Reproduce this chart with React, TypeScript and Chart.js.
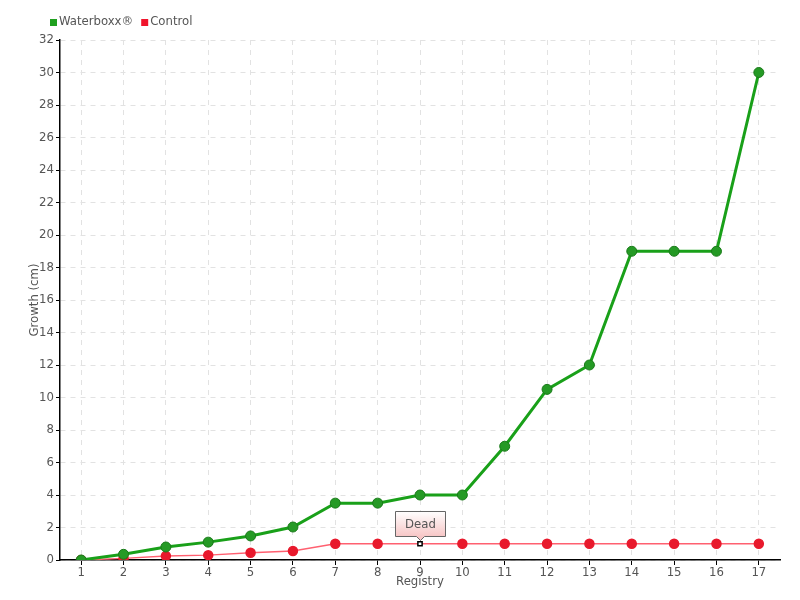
import React, { useEffect, useRef } from "react";
import { Chart, registerables } from "chart.js";

Chart.register(...registerables);

const categories = ["1","2","3","4","5","6","7","8","9","10","11","12","13","14","15","16","17"];
const waterboxx = [0, 0.35, 0.8, 1.1, 1.48, 2.03, 3.5, 3.5, 4, 4, 7, 10.5, 12, 19, 19, 19, 30];
const control = [0, 0.1, 0.25, 0.3, 0.45, 0.55, 1, 1, 1, 1, 1, 1, 1, 1, 1, 1, 1];
const deadIndex = 8;
const deadLabel = "Dead";
const seriesNames = ["Waterboxx®", "Control"];
const seriesColors = ["#1fa01f", "#f0142c"];

const FONT = "'DejaVu Sans Condensed', 'Liberation Sans Narrow', sans-serif";
const TEXT = "#555";

const deadPlugin = {
  id: "deadLabel",
  afterDatasetsDraw(chart: any) {
    const meta = chart.getDatasetMeta(1);
    const el = meta.data[deadIndex];
    if (!el) return;
    const ctx = chart.ctx;
    const x = Math.round(el.x) + 0.5;
    const y = el.y;
    const w = 50, h = 25;
    const bottom = Math.round(y - 8) + 0.5;
    const top = bottom - h;
    const left = x - w / 2;
    ctx.save();
    const g = ctx.createLinearGradient(0, top, 0, bottom);
    g.addColorStop(0, "#ffffff");
    g.addColorStop(1, "#f7c6c6");
    ctx.beginPath();
    ctx.moveTo(left, top);
    ctx.lineTo(left + w, top);
    ctx.lineTo(left + w, bottom);
    ctx.lineTo(x + 4, bottom);
    ctx.lineTo(x, bottom + 4);
    ctx.lineTo(x - 4, bottom);
    ctx.lineTo(left, bottom);
    ctx.closePath();
    ctx.fillStyle = g;
    ctx.fill();
    ctx.strokeStyle = "#666";
    ctx.lineWidth = 1;
    ctx.stroke();
    ctx.fillStyle = TEXT;
    ctx.font = `13px ${FONT}`;
    ctx.textAlign = "center";
    ctx.textBaseline = "middle";
    ctx.fillText(deadLabel, x, top + h / 2 + 1);
    ctx.restore();
  },
};

const legendPlugin = {
  id: "customLegend",
  afterDraw(chart: any) {
    const ctx = chart.ctx;
    ctx.save();
    ctx.font = `13px ${FONT}`;
    ctx.textBaseline = "middle";
    ctx.textAlign = "left";
    let x = chart.chartArea.left - 10;
    const y = 22;
    seriesNames.forEach((name, i) => {
      ctx.fillStyle = seriesColors[i];
      ctx.fillRect(x, y - 3, 7, 7);
      ctx.fillStyle = TEXT;
      ctx.fillText(name, x + 9, y);
      x += 9 + ctx.measureText(name).width + 8;
    });
    ctx.restore();
  },
};

export default function App() {
  const ref = useRef<HTMLCanvasElement | null>(null);
  useEffect(() => {
    document.body.style.margin = "0";
    const canvas = ref.current!;
    const pointStyles = control.map((_, i) => (i === deadIndex ? "rect" : "circle"));
    const redBg = control.map((_, i) => (i === deadIndex ? "#ffffff" : "#e8192c"));
    const redBorder = control.map((_, i) => (i === deadIndex ? "#000000" : "#e8192c"));
    const redRadius = control.map((_, i) => (i === deadIndex ? 3 : 4.5));
    const chart = new Chart(canvas, {
      type: "line",
      data: {
        labels: categories,
        datasets: [
          {
            label: seriesNames[0],
            data: waterboxx,
            borderColor: "#19a019",
            backgroundColor: seriesColors[0],
            borderWidth: 3,
            pointRadius: 5,
            pointBackgroundColor: "#259a25",
            pointBorderColor: "#1a7a1a",
            pointBorderWidth: 1,
            tension: 0,
          },
          {
            label: seriesNames[1],
            data: control,
            borderColor: "#ff6070",
            backgroundColor: seriesColors[1],
            borderWidth: 1.5,
            pointRadius: redRadius,
            pointStyle: pointStyles as any,
            pointBackgroundColor: redBg,
            pointBorderColor: redBorder,
            pointBorderWidth: 1.5,
            tension: 0,
          },
        ],
      },
      options: {
        animation: false,
        responsive: false,
        layout: { padding: { left: 0, right: 20, top: 40, bottom: 0 } },
        plugins: {
          legend: { display: false },
          tooltip: { enabled: false },
        },
        scales: {
          x: {
            offset: true,
            afterFit: (scale: any) => {
              scale.height = 40;
            },
            grid: {
              offset: false,
              color: "#e2e2e2",
              tickColor: "#000",
              tickLength: 5,
              tickBorderDash: [],
            } as any,
            border: { color: "#000", width: 1.5, dash: [5, 5] } as any,
            ticks: { color: TEXT, font: { family: FONT, size: 13 }, padding: 0 },
            title: {
              display: true,
              text: "Registry",
              color: TEXT,
              font: { family: FONT, size: 13 },
              padding: { top: 0, bottom: 11 },
            },
          },
          y: {
            min: 0,
            max: 32,
            afterFit: (scale: any) => {
              scale.width = 60;
            },
            grid: {
              color: "#e2e2e2",
              tickColor: "#000",
              tickLength: 4,
              tickBorderDash: [],
            } as any,
            border: { color: "#000", width: 1.5, dash: [5, 5] } as any,
            ticks: { stepSize: 2, color: TEXT, font: { family: FONT, size: 13 }, padding: 2 },
            title: {
              display: true,
              text: "Growth (cm)",
              color: TEXT,
              font: { family: FONT, size: 13 },
              padding: { top: 27, bottom: 0 },
            },
          },
        },
      },
      plugins: [deadPlugin, legendPlugin],
    });
    return () => chart.destroy();
  }, []);
  return <canvas ref={ref} width={800} height={600} style={{ display: "block" }} />;
}
